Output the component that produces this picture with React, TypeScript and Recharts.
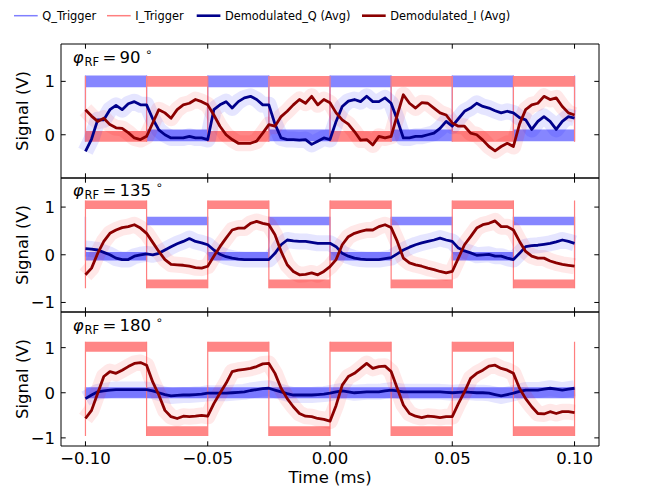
import React from 'react';
import { ComposedChart, Line, Area, XAxis, YAxis } from 'recharts';

// ---------- data ----------
// sampling grid of the averaged traces (ms), step 0.0025 ms
const TIME_GRID: number[] = Array.from({ length: 81 }, (_, i) => Math.round((-0.1 + i * 0.0025) * 10000) / 10000);
// trigger half-period boundaries (ms)
const SEG_EDGES = [-0.1, -0.075, -0.05, -0.025, 0, 0.025, 0.05, 0.075, 0.1];
const X_TICKS = [-0.1, -0.05, 0, 0.05, 0.1];

// phi = 90
const Q_AVG_90 = [-0.31, -0.08, 0.28, 0.28, 0.47, 0.55, 0.47, 0.58, 0.62, 0.56, 0.56, 0.3, 0.09, 0.0, -0.06, -0.06, -0.06, -0.03, -0.06, -0.06, -0.09, 0.47, 0.56, 0.62, 0.5, 0.62, 0.69, 0.72, 0.66, 0.56, 0.56, 0.2, -0.06, -0.09, -0.09, -0.1, -0.09, -0.18, -0.12, -0.06, -0.09, 0.25, 0.53, 0.63, 0.66, 0.62, 0.72, 0.62, 0.62, 0.69, 0.59, 0.28, -0.06, -0.06, -0.03, -0.03, 0.0, 0.03, 0.12, 0.25, 0.16, 0.3, 0.44, 0.5, 0.59, 0.53, 0.5, 0.45, 0.41, 0.44, 0.41, 0.32, 0.28, 0.1, 0.25, 0.34, 0.25, 0.1, 0.25, 0.34, 0.31];
const I_AVG_90 = [0.47, 0.35, 0.25, 0.31, 0.19, 0.13, 0.12, 0.04, -0.06, -0.09, -0.03, 0.22, 0.47, 0.41, 0.31, 0.47, 0.56, 0.59, 0.66, 0.62, 0.56, 0.37, 0.16, 0.0, -0.09, -0.16, -0.16, -0.16, -0.12, 0.03, 0.19, 0.16, 0.34, 0.44, 0.56, 0.66, 0.59, 0.72, 0.56, 0.66, 0.6, 0.41, 0.28, 0.2, 0.06, -0.1, -0.09, -0.19, -0.03, -0.06, -0.03, 0.37, 0.75, 0.59, 0.5, 0.6, 0.59, 0.5, 0.41, 0.37, 0.22, 0.16, 0.16, 0.03, 0.0, -0.1, -0.22, -0.3, -0.22, -0.16, -0.22, 0.2, 0.47, 0.56, 0.59, 0.72, 0.66, 0.69, 0.53, 0.41, 0.37];
const Q_TRIG_90 = [1.0, -0.01, 1.0, -0.01, 1.0, -0.01, 1.0, -0.01];
const I_TRIG_90 = [-0.03, 1.0, -0.03, 1.0, -0.03, 1.0, -0.03, 1.0];

// phi = 135
const Q_AVG_135 = [0.13, 0.12, 0.1, 0.05, 0.0, -0.07, -0.1, -0.1, -0.03, 0.0, 0.02, 0.0, 0.03, 0.1, 0.17, 0.23, 0.28, 0.34, 0.28, 0.25, 0.21, 0.1, 0.01, -0.04, -0.07, -0.09, -0.1, -0.1, -0.1, -0.1, -0.1, 0.03, 0.21, 0.31, 0.29, 0.28, 0.28, 0.26, 0.24, 0.24, 0.24, 0.17, 0.03, -0.03, -0.07, -0.09, -0.1, -0.1, -0.1, -0.08, -0.06, 0.02, 0.1, 0.16, 0.21, 0.25, 0.28, 0.31, 0.35, 0.31, 0.28, 0.14, 0.08, 0.04, -0.01, 0.0, 0.01, -0.03, -0.03, -0.07, -0.1, 0.03, 0.17, 0.19, 0.2, 0.22, 0.24, 0.27, 0.31, 0.28, 0.24];
const I_AVG_135 = [-0.42, -0.28, 0.03, 0.28, 0.45, 0.52, 0.57, 0.59, 0.63, 0.56, 0.45, 0.26, 0.07, -0.1, -0.2, -0.21, -0.22, -0.24, -0.27, -0.28, -0.24, -0.03, 0.17, 0.35, 0.52, 0.56, 0.56, 0.66, 0.7, 0.66, 0.63, 0.42, 0.07, -0.21, -0.35, -0.42, -0.41, -0.38, -0.42, -0.35, -0.25, -0.1, 0.21, 0.38, 0.45, 0.49, 0.52, 0.52, 0.59, 0.63, 0.57, 0.28, -0.07, -0.17, -0.21, -0.24, -0.28, -0.31, -0.35, -0.38, -0.35, -0.07, 0.21, 0.38, 0.56, 0.63, 0.66, 0.71, 0.59, 0.59, 0.52, 0.28, 0.07, -0.03, -0.07, -0.07, -0.13, -0.17, -0.2, -0.22, -0.24];
const Q_TRIG_135 = [-0.03, 0.71, -0.03, 0.71, -0.03, 0.71, -0.03, 0.71];
const I_TRIG_135 = [1.05, -0.61, 1.05, -0.61, 1.05, -0.61, 1.05, -0.61];

// phi = 180
const Q_AVG_180 = [-0.13, -0.05, 0.02, 0.04, 0.06, 0.07, 0.07, 0.07, 0.07, 0.07, 0.07, 0.04, 0.0, -0.04, -0.07, -0.06, -0.05, -0.05, -0.04, -0.03, -0.01, -0.01, -0.01, -0.01, 0.0, 0.01, 0.02, 0.05, 0.07, 0.09, 0.1, 0.06, 0.02, -0.02, -0.05, -0.05, -0.05, -0.05, -0.04, -0.03, -0.01, 0.02, 0.04, 0.02, 0.0, 0.01, 0.02, 0.02, 0.02, 0.04, 0.06, 0.04, 0.02, 0.02, 0.02, 0.02, 0.02, 0.02, 0.02, 0.01, 0.0, 0.01, 0.02, 0.01, 0.0, 0.0, -0.01, -0.04, -0.07, -0.04, -0.01, 0.03, 0.06, 0.06, 0.06, 0.08, 0.1, 0.08, 0.06, 0.08, 0.1];
const I_AVG_180 = [-0.57, -0.39, -0.01, 0.36, 0.47, 0.43, 0.5, 0.58, 0.65, 0.67, 0.61, 0.24, -0.05, -0.39, -0.53, -0.57, -0.52, -0.53, -0.52, -0.5, -0.52, -0.24, -0.01, 0.21, 0.47, 0.5, 0.52, 0.54, 0.58, 0.64, 0.65, 0.43, 0.1, -0.13, -0.31, -0.46, -0.52, -0.53, -0.57, -0.59, -0.63, -0.28, 0.17, 0.36, 0.43, 0.54, 0.65, 0.54, 0.58, 0.59, 0.47, 0.1, -0.27, -0.46, -0.52, -0.55, -0.52, -0.53, -0.55, -0.53, -0.53, -0.24, 0.02, 0.32, 0.43, 0.5, 0.59, 0.61, 0.54, 0.5, 0.43, 0.1, -0.13, -0.31, -0.46, -0.47, -0.42, -0.46, -0.42, -0.42, -0.44];
const Q_TRIG_180 = [0.0, 0.0, 0.0, 0.0, 0.0, 0.0, 0.0, 0.0];
const I_TRIG_180 = [1.02, -0.85, 1.02, -0.85, 1.02, -0.85, 1.02, -0.85];

const PHASE_LABELS = ['90', '135', '180'];
const Y_DOMAINS: [number, number][] = [[-0.81, 1.7], [-1.2, 1.61], [-1.18, 1.79]];
const Y_TICKS = [[0, 1], [-1, 0, 1], [-1, 0, 1]];
const TRIG_HALF = [0.1, 0.09, 0.11];
const Q_TRIG_HALF = [0.11, 0.09, 0.12];

const LEGEND_LABELS = ['Q_Trigger', 'I_Trigger', 'Demodulated_Q (Avg)', 'Demodulated_I (Avg)'];

// ---------- styling ----------
const FONT = "'DejaVu Sans', sans-serif";
const Q_TRIG_COLOR = '#7f7fff';
const I_TRIG_COLOR = '#ff7f7f';
const Q_AVG_COLOR = '#00008b';
const I_AVG_COLOR = '#8b0000';
const PANEL_TOPS = [44, 178, 312];
const PANEL_H = 134;

type Pt = { t: number; v: number | null };

function avgData(values: number[]): Pt[] {
  return values.map((v, i) => ({ t: TIME_GRID[i], v }));
}
function bandData(levels: number[], half: number) {
  const out: { t: number; band: [number, number] }[] = [];
  levels.forEach((lv, k) => {
    out.push({ t: SEG_EDGES[k], band: [lv - half, lv + half] });
    out.push({ t: SEG_EDGES[k + 1], band: [lv - half, lv + half] });
  });
  return out;
}
function edgeData(levels: number[], half: number): Pt[] {
  const out: Pt[] = [];
  const n = levels.length;
  for (let k = 0; k <= n; k++) {
    const a = k === 0 ? levels[1] : levels[k - 1];
    const b = k === n ? levels[n - 2] : levels[k];
    out.push({ t: SEG_EDGES[k], v: Math.min(a, b) - half });
    out.push({ t: SEG_EDGES[k], v: Math.max(a, b) + half });
    out.push({ t: SEG_EDGES[k], v: null });
  }
  return out;
}

const fmtX = (v: number) => (v < 0 ? '\u2212' : '') + Math.abs(v).toFixed(2);
const fmtY = (v: number) => (v < 0 ? '\u2212' : '') + Math.abs(v).toString();
const blank = () => '';

const tickStyle = { fill: '#000', fontSize: 16.5, fontFamily: FONT };
const lineStyle = { stroke: '#000', strokeWidth: 1 };

function Panel({ idx }: { idx: number }) {
  const qAvg = [Q_AVG_90, Q_AVG_135, Q_AVG_180][idx];
  const iAvg = [I_AVG_90, I_AVG_135, I_AVG_180][idx];
  const qTrig = [Q_TRIG_90, Q_TRIG_135, Q_TRIG_180][idx];
  const iTrig = [I_TRIG_90, I_TRIG_135, I_TRIG_180][idx];
  const top = PANEL_TOPS[idx];
  const bottom = top + PANEL_H;
  const showX = idx === 2;
  const dom = Y_DOMAINS[idx];
  const ticks = Y_TICKS[idx];
  const qd = avgData(qAvg);
  const id = avgData(iAvg);
  return (
    <div style={{ position: 'absolute', left: 0, top: 0 }}>
      <ComposedChart width={655} height={492} margin={{ top: top - 30, bottom: 492 - bottom - 30, left: 1, right: 6 }}>
        <XAxis xAxisId="b" dataKey="t" type="number" domain={[-0.11, 0.11]} allowDataOverflow ticks={X_TICKS}
          interval={0} tickSize={-4.7} tickMargin={11} height={30} axisLine={lineStyle} tickLine={lineStyle}
          tick={tickStyle} tickFormatter={showX ? fmtX : blank} />
        <XAxis xAxisId="t" orientation="top" dataKey="t" type="number" domain={[-0.11, 0.11]} allowDataOverflow ticks={X_TICKS}
          interval={0} tickSize={-4.7} height={30} axisLine={lineStyle} tickLine={lineStyle} tick={tickStyle} tickFormatter={blank} />
        <YAxis yAxisId="l" type="number" domain={dom} allowDataOverflow ticks={ticks} interval={0} width={60}
          tickSize={-4.7} tickMargin={10.7} axisLine={lineStyle} tickLine={lineStyle} tick={tickStyle} tickFormatter={fmtY} />
        <YAxis yAxisId="r" orientation="right" type="number" domain={dom} allowDataOverflow ticks={ticks} interval={0} width={50}
          tickSize={-4.7} axisLine={lineStyle} tickLine={lineStyle} tick={tickStyle} tickFormatter={blank} />

        <Area xAxisId="b" yAxisId="l" data={bandData(qTrig, Q_TRIG_HALF[idx])} dataKey="band" type="linear"
          stroke="none" fill={Q_TRIG_COLOR} fillOpacity={0.95} isAnimationActive={false} dot={false} activeDot={false} />
        <Line xAxisId="b" yAxisId="l" data={edgeData(qTrig, Q_TRIG_HALF[idx])} dataKey="v" type="linear"
          stroke={Q_TRIG_COLOR} strokeWidth={1.2} dot={false} activeDot={false} isAnimationActive={false} connectNulls={false} />
        <Area xAxisId="b" yAxisId="l" data={bandData(iTrig, TRIG_HALF[idx])} dataKey="band" type="linear"
          stroke="none" fill={I_TRIG_COLOR} fillOpacity={0.95} isAnimationActive={false} dot={false} activeDot={false} />
        <Line xAxisId="b" yAxisId="l" data={edgeData(iTrig, TRIG_HALF[idx])} dataKey="v" type="linear"
          stroke={I_TRIG_COLOR} strokeWidth={1.2} dot={false} activeDot={false} isAnimationActive={false} connectNulls={false} />

        <Line xAxisId="b" yAxisId="l" data={qd} dataKey="v" type="linear" stroke="#0000ff" strokeOpacity={0.1}
          strokeWidth={16} strokeLinejoin="round" dot={false} activeDot={false} isAnimationActive={false} />
        <Line xAxisId="b" yAxisId="l" data={id} dataKey="v" type="linear" stroke="#ff0000" strokeOpacity={0.09}
          strokeWidth={16} strokeLinejoin="round" dot={false} activeDot={false} isAnimationActive={false} />

        <Line xAxisId="b" yAxisId="l" data={qd} dataKey="v" type="linear" stroke={Q_AVG_COLOR}
          strokeWidth={2.8} strokeLinejoin="round" dot={false} activeDot={false} isAnimationActive={false} />
        <Line xAxisId="b" yAxisId="l" data={id} dataKey="v" type="linear" stroke={I_AVG_COLOR}
          strokeWidth={2.8} strokeLinejoin="round" dot={false} activeDot={false} isAnimationActive={false} />
      </ComposedChart>
    </div>
  );
}

function Overlay() {
  const legendX = [14, 107, 196.7, 362];
  const legendColors = [Q_TRIG_COLOR, I_TRIG_COLOR, Q_AVG_COLOR, I_AVG_COLOR];
  const legendWidths = [1.5, 1.5, 2.6, 2.6];
  const annBase = [63, 196, 331];
  return (
    <svg width={655} height={492} style={{ position: 'absolute', left: 0, top: 0, pointerEvents: 'none' }} fontFamily={FONT}>
      {LEGEND_LABELS.map((lab, k) => (
        <g key={lab}>
          <line x1={legendX[k]} x2={legendX[k] + 23.7} y1={15.7} y2={15.7} stroke={legendColors[k]} strokeWidth={legendWidths[k]} />
          <text x={legendX[k] + 28.3} y={19.8} fontSize={11.4} fill="#000">{lab}</text>
        </g>
      ))}
      {PANEL_TOPS.map((top, k) => (
        <text key={'yl' + k} transform={`translate(27.5, ${top + PANEL_H / 2}) rotate(-90)`} textAnchor="middle"
          fontSize={16.5} fill="#000">Signal (V)</text>
      ))}
      <text x={330} y={483} textAnchor="middle" fontSize={16.5} fill="#000">Time (ms)</text>
      {PHASE_LABELS.map((ph, k) => {
        const b = annBase[k];
        const degX = 119.5 + ph.length * 10.5 + 4.5;
        return (
          <g key={'ann' + k} fill="#000">
            <text x={72.7} y={b} fontSize={16.5} fontStyle="italic">φ</text>
            <text x={84.5} y={b + 3.3} fontSize={11.5}>RF</text>
            <text x={102.5} y={b} fontSize={16.5}>=</text>
            <text x={119.5} y={b} fontSize={16.5}>{ph}</text>
            <text x={degX} y={b - 7} fontSize={11.5}>∘</text>
          </g>
        );
      })}
    </svg>
  );
}

export default function App() {
  return (
    <div style={{ position: 'absolute', left: 0, top: 0, width: 655, height: 492, background: '#fff' }}>
      <Panel idx={0} />
      <Panel idx={1} />
      <Panel idx={2} />
      <Overlay />
    </div>
  );
}
